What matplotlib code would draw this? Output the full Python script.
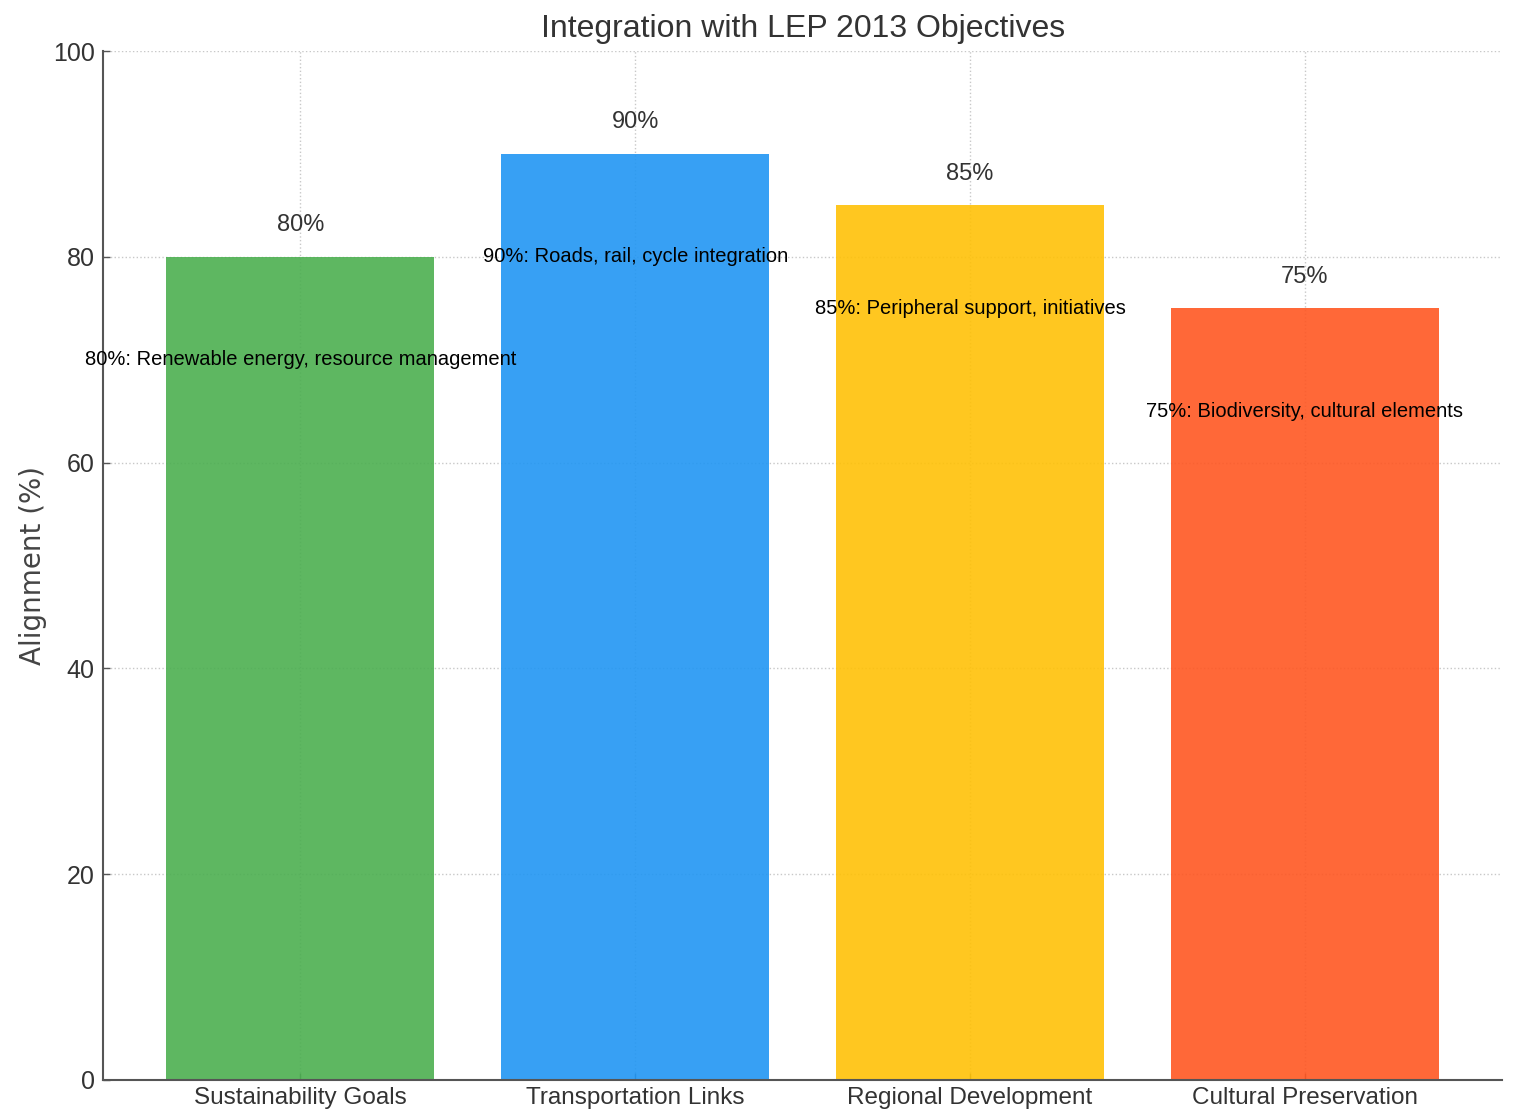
import matplotlib
matplotlib.use("Agg")
import matplotlib.pyplot as plt

# 数据
categories = ["Sustainability Goals", "Transportation Links",
              "Regional Development", "Cultural Preservation"]
alignment = [80, 90, 85, 75]
notes = ["Renewable energy, resource management",
         "Roads, rail, cycle integration",
         "Peripheral support, initiatives",
         "Biodiversity, cultural elements"]
colors = ["#4CAF50", "#2196F3", "#FFC107", "#FF5722"]

# 用较窄的字体
plt.rcParams["font.family"] = ["Liberation Sans", "DejaVu Sans"]

fig = plt.figure(figsize=(15.13, 11.11), dpi=100)
ax = fig.add_axes([0.068, 0.028, 0.925, 0.926])

bars = ax.bar(categories, alignment, color=colors, alpha=0.9, width=0.8, zorder=2)

# 柱顶数值和说明文字
for bar, val, note in zip(bars, alignment, notes):
    x = bar.get_x() + bar.get_width() / 2
    ax.text(x, val + 2, f"{val}%", ha="center", va="bottom",
            fontsize=17, color="#333333", zorder=3)
    ax.text(x, val - 10, f"{val}%: {note}", ha="center", va="center",
            fontsize=14.5, color="black", zorder=3)

ax.set_ylim(0, 100)
ax.set_title("Integration with LEP 2013 Objectives", fontsize=23,
             color="#333333", pad=10)
ax.set_ylabel("Alignment (%)", fontsize=20, color="#444444",
              family="DejaVu Sans")
ax.yaxis.set_label_coords(-0.04, 0.5)

ax.grid(True, linestyle=":", color="#c8c8c8", linewidth=1.0, zorder=0)
ax.set_axisbelow(True)
for side in ["top", "right"]:
    ax.spines[side].set_visible(False)
for side in ["left", "bottom"]:
    ax.spines[side].set_color("#555555")
    ax.spines[side].set_linewidth(1.5)
ax.tick_params(axis="y", labelsize=18, colors="#555555", labelcolor="#333333",
               direction="in", length=5, width=1, pad=6)
ax.tick_params(axis="x", labelsize=17.5, colors="#555555", labelcolor="#333333",
               direction="in", length=5, width=1, pad=5)

fig.savefig("out.png", dpi=100)
